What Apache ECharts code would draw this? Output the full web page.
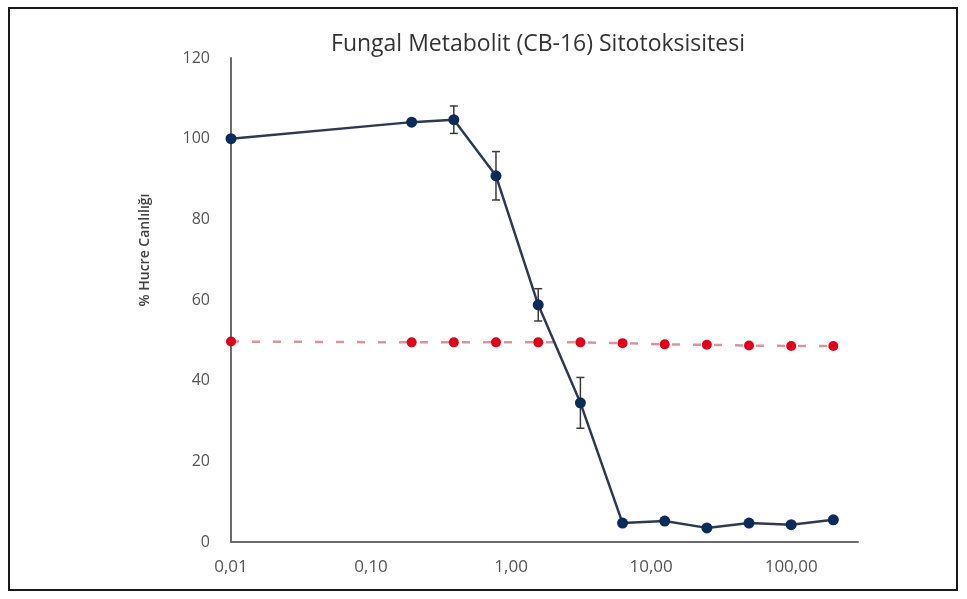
<!DOCTYPE html>
<html>
<head>
<meta charset="utf-8">
<script src="https://cdn.jsdelivr.net/npm/echarts@6/dist/echarts.min.js"></script>
<style>
  html, body { margin: 0; padding: 0; background: #ffffff; }
  #chart { width: 967px; height: 599px; }
</style>
</head>
<body>
<div id="chart"></div>
<script>
// Concentrations (log x axis)
const concentrations = [0.01, 0.195, 0.39, 0.78, 1.5625, 3.125, 6.25, 12.5, 25, 50, 100, 200];
// % cell viability (blue series)
const viability = [100, 104.1, 104.7, 90.8, 58.8, 34.5, 4.7, 5.2, 3.5, 4.7, 4.3, 5.5];
// error bar half-heights
const viabilityErr = [0, 0, 3.4, 6, 4, 6.3, 0, 0, 0, 0, 0, 0];
// 50% reference (red dashed series)
const halfLine = [49.7, 49.5, 49.5, 49.5, 49.5, 49.5, 49.3, 49.0, 48.9, 48.7, 48.6, 48.6];
// axis settings
const yTicks = [0, 20, 40, 60, 80, 100, 120];
const xMin = 0.01, xMax = 300;

const blueData = concentrations.map((c, i) => [c, viability[i]]);
const redData = concentrations.map((c, i) => [c, halfLine[i]]);
const errData = concentrations.map((c, i) => [c, viability[i], viabilityErr[i]]);

const chart = echarts.init(document.getElementById('chart'), null, { renderer: 'canvas' });
const font = 'Open Sans';

chart.setOption({
  backgroundColor: '#ffffff',
  animation: false,
  title: {
    text: 'Fungal Metabolit (CB-16) Sitotoksisitesi',
    left: 533,
    textAlign: 'center',
    top: 28,
    textStyle: { fontFamily: font, fontSize: 23, fontWeight: 'normal', color: '#333333' }
  },
  graphic: [{
    type: 'rect',
    shape: { x: 9, y: 8, width: 948, height: 582 },
    style: { fill: 'none', stroke: '#1a1a1a', lineWidth: 2 },
    silent: true
  }, {
    type: 'text',
    x: 145,
    y: 250,
    rotation: Math.PI / 2,
    style: {
      text: '% Hucre Canlılığı',
      fontFamily: font,
      fontSize: 14,
      fontWeight: 600,
      fill: '#404040',
      align: 'center',
      verticalAlign: 'middle'
    },
    silent: true
  }],
  grid: { left: 231, right: 109, top: 58, bottom: 57 },
  xAxis: {
    type: 'log',
    logBase: 10,
    min: xMin,
    max: xMax,
    axisLine: { show: true, lineStyle: { color: '#6b6b6b', width: 2 } },
    axisTick: { show: false },
    splitLine: { show: false },
    minorTick: { show: false },
    axisLabel: {
      showMaxLabel: false,
      margin: 17,
      fontFamily: font,
      fontSize: 17,
      color: '#555555',
      formatter: v => Number(v).toFixed(2).replace('.', ',')
    }
  },
  yAxis: {
    type: 'value',
    min: yTicks[0],
    max: yTicks[yTicks.length - 1],
    interval: 20,
    axisLine: { show: true, lineStyle: { color: '#6b6b6b', width: 2 } },
    axisTick: { show: false },
    splitLine: { show: false },
    axisLabel: { margin: 21, fontFamily: font, fontSize: 16, color: '#555555' }
  },
  series: [
    {
      type: 'line',
      data: redData,
      symbol: 'circle',
      symbolSize: 10,
      itemStyle: { color: '#e3001b' },
      lineStyle: { color: '#d4979d', width: 2.5, type: [8, 13] },
      z: 2
    },
    {
      type: 'custom',
      data: errData,
      z: 3,
      renderItem: function (params, api) {
        const x = api.value(0), y = api.value(1), e = api.value(2);
        if (!e) return null;
        const top = api.coord([x, y + e]);
        const bot = api.coord([x, y - e]);
        const st = { stroke: '#3a3a3a', lineWidth: 1.5 };
        return {
          type: 'group',
          children: [
            { type: 'line', shape: { x1: top[0], y1: top[1], x2: bot[0], y2: bot[1] }, style: st },
            { type: 'line', shape: { x1: top[0] - 4, y1: top[1], x2: top[0] + 4, y2: top[1] }, style: st },
            { type: 'line', shape: { x1: bot[0] - 4, y1: bot[1], x2: bot[0] + 4, y2: bot[1] }, style: st }
          ]
        };
      }
    },
    {
      type: 'line',
      data: blueData,
      symbol: 'circle',
      symbolSize: 11,
      itemStyle: { color: '#0c2a5a' },
      lineStyle: { color: '#2e3a52', width: 2.5 },
      z: 4
    }
  ]
});
</script>
</body>
</html>
